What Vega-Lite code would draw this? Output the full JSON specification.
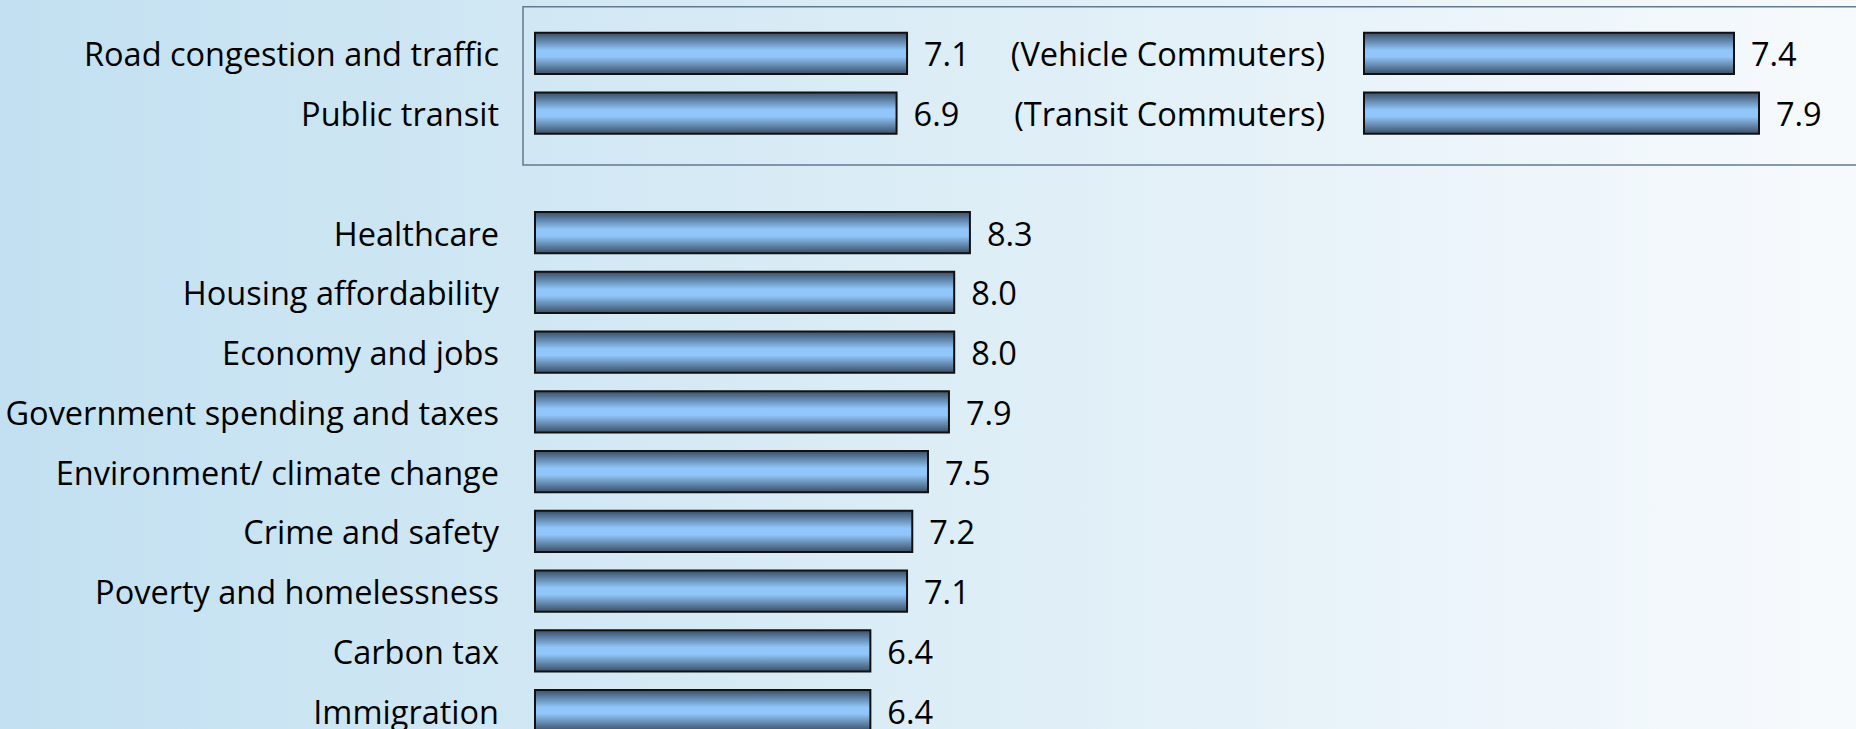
{
  "$schema": "https://vega.github.io/schema/vega-lite/v6.json",
  "width": 1856,
  "height": 764,
  "padding": 0,
  "autosize": {"type": "none"},
  "background": "#c4e2f2",
  "view": {
    "stroke": null,
    "fill": {"gradient": "linear", "x1": 0, "y1": 0, "x2": 1, "y2": 0,
      "stops": [{"offset": 0, "color": "#c2e0f1"}, {"offset": 0.5, "color": "#dcedf6"}, {"offset": 1, "color": "#f7fafd"}]}
  },
  "config": {"text": {"font": "Open Sans", "fontSize": 32.5, "color": "#000000", "dy": 3}},
  "datasets": {
    "issues": [
      {"issue": "Road congestion and traffic", "score": 7.1},
      {"issue": "Public transit", "score": 6.9},
      {"issue": "Healthcare", "score": 8.3},
      {"issue": "Housing affordability", "score": 8.0},
      {"issue": "Economy and jobs", "score": 8.0},
      {"issue": "Government spending and taxes", "score": 7.9},
      {"issue": "Environment/ climate change", "score": 7.5},
      {"issue": "Crime and safety", "score": 7.2},
      {"issue": "Poverty and homelessness", "score": 7.1},
      {"issue": "Carbon tax", "score": 6.4},
      {"issue": "Immigration", "score": 6.4}
    ],
    "commuters": [
      {"issue": "Road congestion and traffic", "group": "(Vehicle Commuters)", "score": 7.4},
      {"issue": "Public transit", "group": "(Transit Commuters)", "score": 7.9}
    ]
  },
  "encoding": {
    "y": {"field": "issue", "type": "nominal", "axis": null,
      "scale": {"domain": ["Road congestion and traffic", "Public transit", " ", "Healthcare", "Housing affordability", "Economy and jobs", "Government spending and taxes", "Environment/ climate change", "Crime and safety", "Poverty and homelessness", "Carbon tax", "Immigration"],
        "paddingInner": 0.31, "paddingOuter": 0.55}}
  },
  "layer": [
    {
      "data": {"values": [{"issue": "box"}]},
      "mark": {"type": "rect", "fill": null, "stroke": "#617a92", "strokeWidth": 1.5, "yOffset": -26, "y2Offset": -8},
      "encoding": {
        "x": {"datum": -0.229, "type": "quantitative", "axis": null, "scale": {"domain": [-10.21, 25.21]}},
        "x2": {"datum": 40},
        "y": {"datum": "Road congestion and traffic", "type": "nominal", "bandPosition": 0, "axis": null},
        "y2": {"datum": " "}
      }
    },
    {
      "data": {"name": "issues"},
      "mark": {"type": "bar", "stroke": "#111111", "strokeWidth": 2,
        "fill": {"gradient": "linear", "x1": 0, "y1": 0, "x2": 0, "y2": 1,
          "stops": [{"offset": 0, "color": "#3a4f67"}, {"offset": 0.42, "color": "#90c6f9"}, {"offset": 0.58, "color": "#90c6f9"}, {"offset": 1, "color": "#3a4f67"}]}},
      "encoding": {
        "x": {"field": "score", "type": "quantitative", "axis": null, "scale": {"domain": [-10.21, 25.21]}}
      }
    },
    {
      "data": {"name": "issues"},
      "mark": {"type": "text", "align": "left", "baseline": "middle", "dx": 17, "dy": 3},
      "encoding": {
        "x": {"field": "score", "type": "quantitative", "axis": null, "scale": {"domain": [-10.21, 25.21]}},
        "text": {"field": "score", "type": "quantitative", "format": ".1f"}
      }
    },
    {
      "data": {"name": "issues"},
      "mark": {"type": "text", "align": "right", "baseline": "middle", "dx": -36, "dy": 3},
      "encoding": {
        "x": {"datum": 0, "type": "quantitative", "axis": null, "scale": {"domain": [-10.21, 25.21]}},
        "text": {"field": "issue", "type": "nominal"}
      }
    },
    {
      "data": {"name": "commuters"},
      "mark": {"type": "bar", "stroke": "#111111", "strokeWidth": 2,
        "fill": {"gradient": "linear", "x1": 0, "y1": 0, "x2": 0, "y2": 1,
          "stops": [{"offset": 0, "color": "#3a4f67"}, {"offset": 0.42, "color": "#90c6f9"}, {"offset": 0.58, "color": "#90c6f9"}, {"offset": 1, "color": "#3a4f67"}]}},
      "encoding": {
        "x": {"field": "score", "type": "quantitative", "axis": null, "scale": {"domain": [-27.28, 9.84]}}
      }
    },
    {
      "data": {"name": "commuters"},
      "mark": {"type": "text", "align": "left", "baseline": "middle", "dx": 17, "dy": 3},
      "encoding": {
        "x": {"field": "score", "type": "quantitative", "axis": null, "scale": {"domain": [-27.28, 9.84]}},
        "text": {"field": "score", "type": "quantitative", "format": ".1f"}
      }
    },
    {
      "data": {"name": "commuters"},
      "mark": {"type": "text", "align": "right", "baseline": "middle", "dx": -39, "dy": 3},
      "encoding": {
        "x": {"datum": 0, "type": "quantitative", "axis": null, "scale": {"domain": [-27.28, 9.84]}},
        "text": {"field": "group", "type": "nominal"}
      }
    }
  ],
  "resolve": {"scale": {"x": "independent"}}
}
